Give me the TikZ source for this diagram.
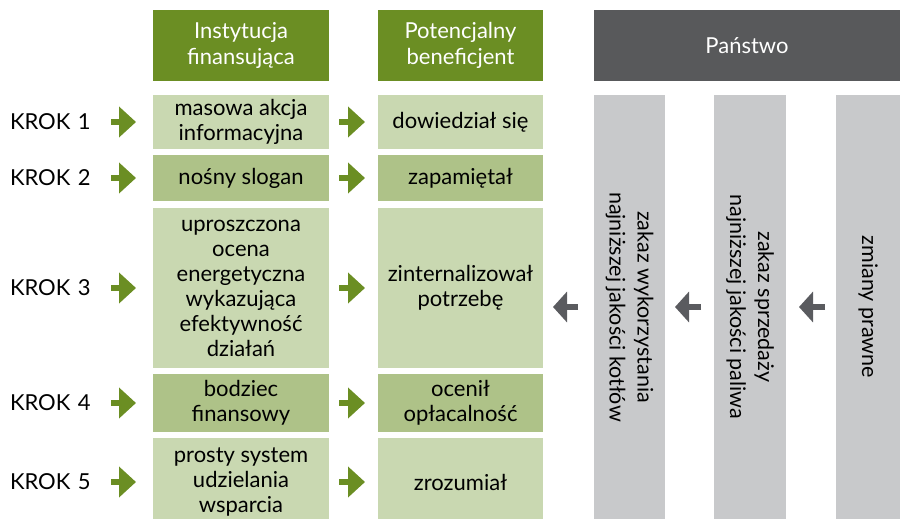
\documentclass[tikz,border=0pt]{standalone}
\usepackage{fontspec}
\setmainfont{Lato}
\usetikzlibrary{arrows.meta,calc}
\definecolor{hgreen}{RGB}{107,142,35}
\definecolor{lgreen}{RGB}{201,216,177}
\definecolor{mgreen}{RGB}{174,194,136}
\definecolor{hgray}{RGB}{88,89,91}
\definecolor{cgray}{RGB}{200,201,203}
\definecolor{agray}{RGB}{90,91,95}
\begin{document}
\begin{tikzpicture}[x=1pt,y=-1pt,
  every node/.style={inner sep=0pt,outer sep=0pt},
  txt/.style={font=\fontsize{22}{25}\selectfont, align=center},
  cell/.style={txt, anchor=north west, text=black},
  lcell/.style={cell, fill=lgreen},
  mcell/.style={cell, fill=mgreen},
  head/.style={font=\fontsize{22}{26}\selectfont, align=center, anchor=north west, text=white, minimum height=71pt},
  gcol/.style={anchor=north west, fill=cgray, minimum height=424pt},
  vtxt/.style={font=\fontsize{21.5}{28}\selectfont, align=center, rotate=-90},
  krok/.style={font=\fontsize{22}{25}\selectfont, anchor=west, text width=90pt, align=left},
  garr/.style={line width=6pt, hgreen, -{Triangle[length=17pt,width=30pt]}},
  grarr/.style={line width=6pt, agray, -{Triangle[length=14pt,width=30pt]}}
]
\useasboundingbox (0,0) rectangle (900,519);
\coordinate (kx) at (10,0);

% headers
\node[head, fill=hgreen, minimum width=176pt] (h1) at (153,10) {Instytucja\\finansująca};
\node[head, fill=hgreen, minimum width=165pt] (h2) at (378,10) {Potencjalny\\beneficjent};
\node[head, fill=hgray, minimum width=306pt] (h3) at (594,10) {Państwo};

% left column
\node[lcell, minimum width=176pt, minimum height=54pt] (l1) at (153,95) {masowa akcja\\informacyjna};
\node[mcell, minimum width=176pt, minimum height=46pt] (l2) at (153,155) {nośny slogan};
\node[lcell, minimum width=176pt, minimum height=160pt] (l3) at (153,208) {uproszczona\\ocena\\energetyczna\\wykazująca\\efektywność\\działań};
\node[mcell, minimum width=176pt, minimum height=58pt] (l4) at (153,374) {bodziec\\finansowy};
\node[lcell, minimum width=176pt, minimum height=88pt] (l5) at (153,438) {prosty system\\udzielania\\wsparcia};

% right column
\node[lcell, minimum width=165pt, minimum height=54pt] (r1) at (378,95) {dowiedział się};
\node[mcell, minimum width=165pt, minimum height=46pt] (r2) at (378,155) {zapamiętał};
\node[lcell, minimum width=165pt, minimum height=160pt] (r3) at (378,208) {zinternalizował\\potrzebę};
\node[mcell, minimum width=165pt, minimum height=58pt] (r4) at (378,374) {ocenił\\opłacalność};
\node[lcell, minimum width=165pt, minimum height=88pt] (r5) at (378,438) {zrozumiał};

% KROK labels
\foreach \i in {1,...,5}{
  \node[krok] (k\i) at (l\i.west -| kx) {KROK \i};
}

% green arrows
\foreach \i in {1,...,5}{
  \draw[garr, shorten <=11pt, shorten >=17pt] (k\i.east) -- (l\i.west);
  \draw[garr, shorten <=10pt, shorten >=13pt] (l\i.east) -- (r\i.west);
}

% gray columns
\node[gcol, minimum width=71pt] (c1) at (594,95) {};
\node[gcol, minimum width=72pt] (c2) at (714,95) {};
\node[gcol, minimum width=64pt] (c3) at (836,95) {};
\node[vtxt] (t1) at (c1.center) {zakaz wykorzystania\\najniższej jakości kotłów};
\node[vtxt] (t2) at (c2.center) {zakaz sprzedaży\\najniższej jakości paliwa};
\node[vtxt] (t3) at (c3.center) {zmiany prawne};

% gray arrows
\draw[grarr, shorten <=16pt, shorten >=10pt] (c1.west) -- (c1.west -| r3.east);
\draw[grarr, shorten <=13pt, shorten >=10pt] (c2.west) -- (c1.east);
\draw[grarr, shorten <=11pt, shorten >=13pt] (c3.west) -- (c2.east);
\end{tikzpicture}
\end{document}
